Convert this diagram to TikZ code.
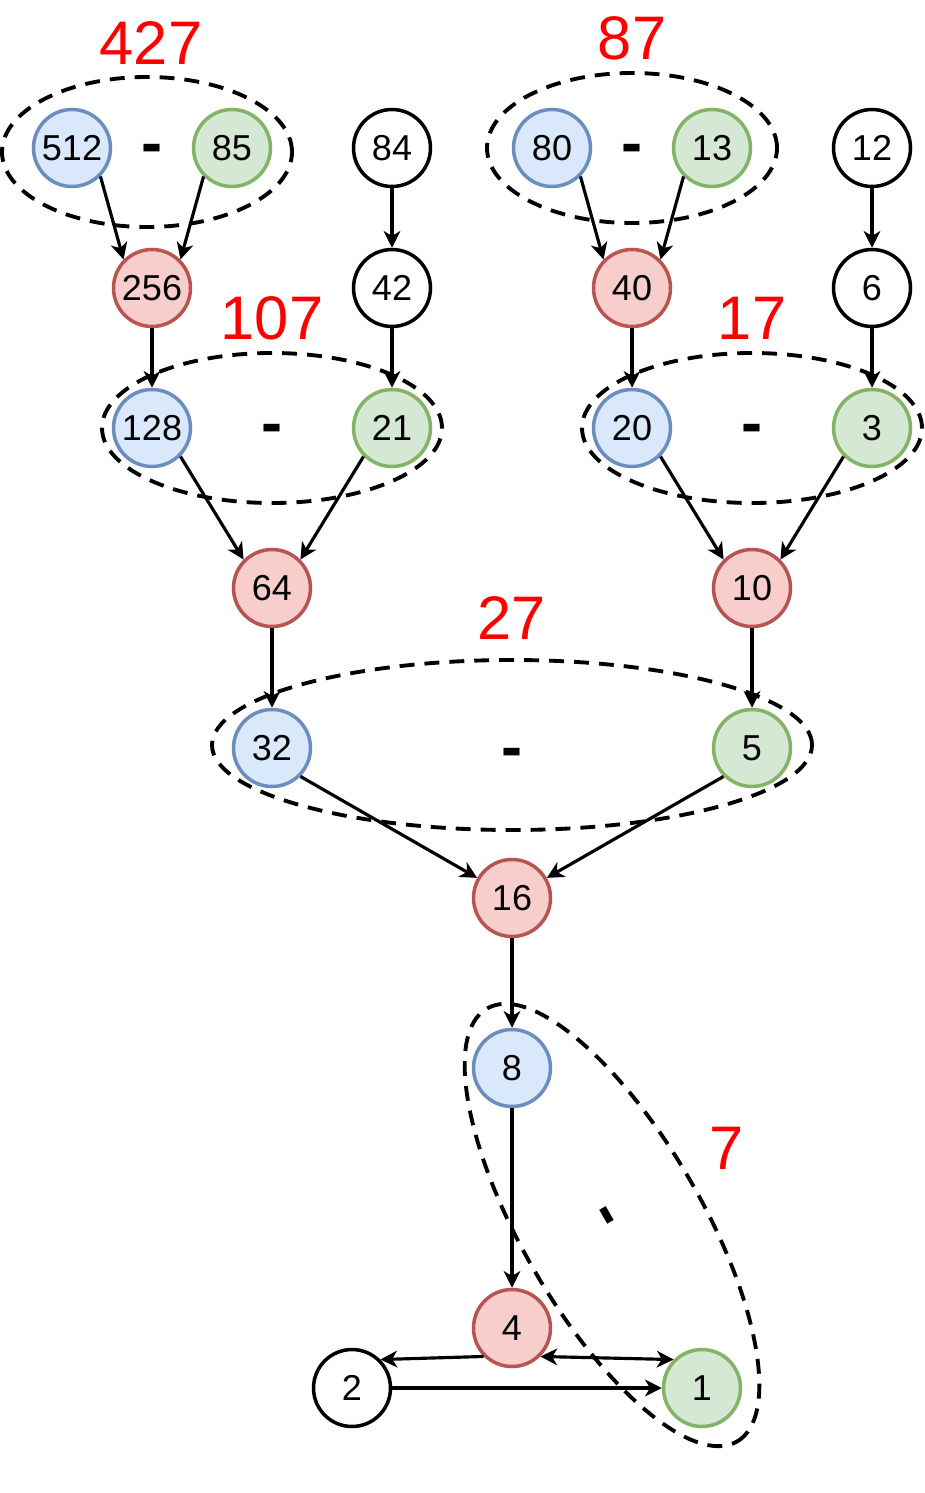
\documentclass[tikz,border=0pt]{standalone}
\usepackage{fontspec}
\setmainfont{Liberation Sans}
\usetikzlibrary{arrows.meta}
\definecolor{blueFill}{HTML}{DAE8FC}
\definecolor{blueLine}{HTML}{6C8EBF}
\definecolor{greenFill}{HTML}{D5E8D4}
\definecolor{greenLine}{HTML}{82B366}
\definecolor{redFill}{HTML}{F8CECC}
\definecolor{redLine}{HTML}{B85450}

\begin{document}
\begin{tikzpicture}[x=0.02cm, y=0.02cm,
  num/.style={circle, draw=black, fill=white, line width=2pt, inner sep=0pt,
    minimum size=1.54cm, font=\fontsize{20.5}{24}\selectfont},
  bluenum/.style={num, draw=blueLine, fill=blueFill},
  greennum/.style={num, draw=greenLine, fill=greenFill},
  rednum/.style={num, draw=redLine, fill=redFill},
  grp/.style={draw=black, line width=2.2pt, dash pattern=on 8.5pt off 5.7pt},
  total/.style={text=red, inner sep=0pt, font=\fontsize{35}{40}\selectfont},
  minus/.style={inner sep=0pt, font=\fontsize{36}{40}\selectfont\bfseries},
  dtip/.tip={Stealth[length=9.5pt, width=9.5pt, inset=2.8pt]},
  edge/.style={line width=1.8pt, -dtip}]
  \useasboundingbox (0,0) rectangle (925,-1493);

  % dashed groups
  \draw[grp] (147,-152) ellipse [x radius=145, y radius=75];
  \draw[grp] (272,-428) ellipse [x radius=170, y radius=75];
  \draw[grp] (632,-148) ellipse [x radius=145, y radius=75];
  \draw[grp] (752,-428) ellipse [x radius=170, y radius=75];
  \draw[grp] (512,-745) ellipse [x radius=300, y radius=85];
  \draw[grp, rotate around={-60:(612,-1225)}] (612,-1225) ellipse [x radius=250, y radius=90];

  % left tree
  \node[bluenum] (n512) at (72,-148) {512};
  \node[greennum] (n85) at (232,-148) {85};
  \node[num] (n84) at (392,-148) {84};
  \node[rednum] (n256) at (152,-288) {256};
  \node[num] (n42) at (392,-288) {42};
  \node[bluenum] (n128) at (152,-428) {128};
  \node[greennum] (n21) at (392,-428) {21};
  \node[rednum] (n64) at (272,-588) {64};

  % right tree
  \node[bluenum] (n80) at (552,-148) {80};
  \node[greennum] (n13) at (712,-148) {13};
  \node[num] (n12) at (872,-148) {12};
  \node[rednum] (n40) at (632,-288) {40};
  \node[num] (n6) at (872,-288) {6};
  \node[bluenum] (n20) at (632,-428) {20};
  \node[greennum] (n3) at (872,-428) {3};
  \node[rednum] (n10) at (752,-588) {10};

  % bottom
  \node[bluenum] (n32) at (272,-748) {32};
  \node[greennum] (n5) at (752,-748) {5};
  \node[rednum] (n16) at (512,-898) {16};
  \node[bluenum] (n8) at (512,-1068) {8};
  \node[rednum] (n4) at (512,-1328) {4};
  \node[num] (n2) at (352,-1388) {2};
  \node[greennum] (n1) at (702,-1388) {1};

  % differences
  \node[total] (t427) at (151,-43) {427};
  \node[total] (t107) at (272,-318) {107};
  \node[total] (t87) at (632,-38) {87};
  \node[total] (t17) at (752,-318) {17};
  \node[total] (t27) at (512,-618) {27};
  \node[total] (t7) at (727,-1148) {7};

  \node[minus] (m427) at (152,-154) {-};
  \node[minus] (m107) at (272,-434) {-};
  \node[minus] (m87) at (632,-154) {-};
  \node[minus] (m17) at (752,-434) {-};
  \node[minus] (m27) at (512,-758) {-};
  \node[minus, rotate=-60] (m7) at (601,-1219) {-};

  \draw[edge] (n512.-45) -- (n256.135);
  \draw[edge] (n85.-135) -- (n256.45);
  \draw[edge] (n84) -- (n42);
  \draw[edge] (n256) -- (n128);
  \draw[edge] (n42) -- (n21);
  \draw[edge] (n128.-45) -- (n64.135);
  \draw[edge] (n21.-135) -- (n64.45);

  \draw[edge] (n80.-45) -- (n40.135);
  \draw[edge] (n13.-135) -- (n40.45);
  \draw[edge] (n12) -- (n6);
  \draw[edge] (n40) -- (n20);
  \draw[edge] (n6) -- (n3);
  \draw[edge] (n20.-45) -- (n10.135);
  \draw[edge] (n3.-135) -- (n10.45);

  \draw[edge] (n64) -- (n32);
  \draw[edge] (n10) -- (n5);
  \draw[edge] (n32.-45) -- (n16.150);
  \draw[edge] (n5.-135) -- (n16.30);
  \draw[edge] (n16) -- (n8);
  \draw[edge] (n8) -- (n4);
  \draw[edge] (n4.-135) -- (n2.45);
  \draw[edge, dtip-dtip] (n4.-45) -- (n1.135);
  \draw[edge] (n2) -- (n1);
\end{tikzpicture}
\end{document}
